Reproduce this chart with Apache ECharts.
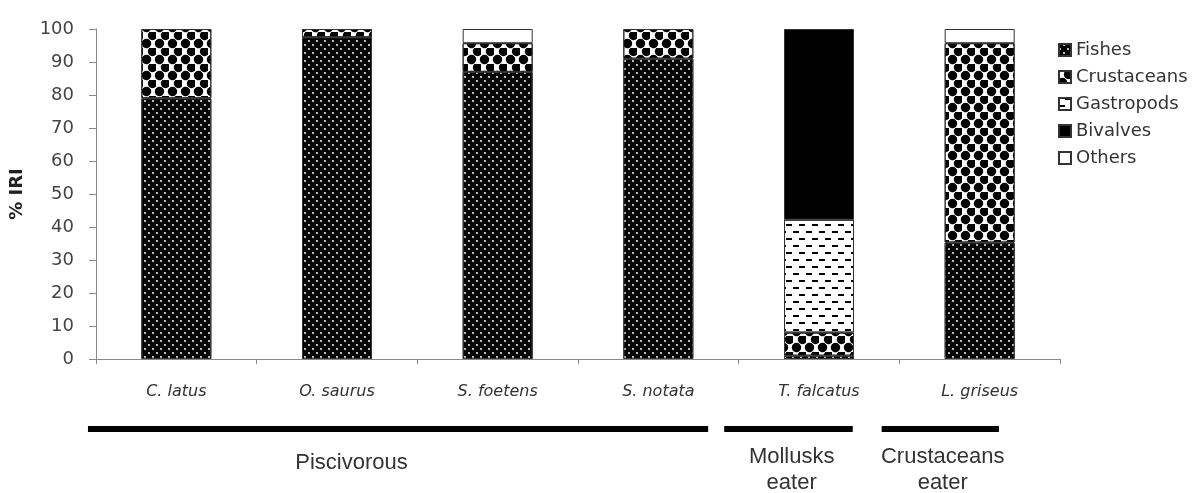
<!DOCTYPE html>
<html>
<head>
<meta charset="utf-8">
<script src="https://cdn.jsdelivr.net/npm/echarts@6/dist/echarts.min.js"></script>
<style>
  html, body { margin: 0; padding: 0; background: #fff; }
  #chart { width: 1198px; height: 493px; }
</style>
</head>
<body>
<div id="chart"></div>
<script>
// species on the x axis
const species = ["C. latus", "O. saurus", "S. foetens", "S. notata", "T. falcatus", "L. griseus"];

// % IRI by prey group
const fishes      = [79, 97.5, 87, 91, 1, 35.3];
const crustaceans = [21, 2.5, 8.7, 9, 7, 60.4];
const gastropods  = [0, 0, 0, 0, 34.2, 0];
const bivalves    = [0, 0, 0, 0, 57.8, 0];
const others      = [0, 0, 4.3, 0, 0, 4.3];

const yTicks = [0, 100, 10]; // min, max, interval

// feeding guilds under the axis (spans in category units)
const guildNames = ["Piscivorous", "Mollusks\neater", "Crustaceans\neater"];
const guildFrom  = [-0.55, 3.41, 4.39];
const guildTo    = [3.31, 4.21, 5.12];
const guildMid   = [1.09, 3.83, 4.77];
const guildTop   = [450, 444, 444];

const chart = echarts.init(document.getElementById("chart"));

const decals = {
  Fishes: {
    symbol: "rect", color: "#b8b8b8", symbolSize: 1,
    dashArrayX: [[2, 6], [0, 4, 2, 2]], dashArrayY: [2, 2]
  },
  Crustaceans: {
    symbol: "circle", color: "#000", symbolSize: 1.35,
    dashArrayX: [[7, 6], [0, 6, 7, 0]], dashArrayY: [7, 1]
  },
  Gastropods: {
    symbol: "rect", color: "#000", symbolSize: 1,
    dashArrayX: [[6, 7], [0, 6, 6, 1]], dashArrayY: [2, 5]
  }
};
const fills = {
  Fishes: "#000", Crustaceans: "#fff", Gastropods: "#fff", Bivalves: "#000", Others: "#fff"
};

const mk = (name, vals) => {
  const itemStyle = { color: fills[name], borderColor: "#333", borderWidth: 1 };
  if (decals[name]) itemStyle.decal = decals[name];
  return {
    name,
    type: "bar",
    stack: "iri",
    barWidth: 70,
    data: vals.map(v => (v ? v : "-")),
    itemStyle
  };
};

const option = {
  animation: false,
  backgroundColor: "#fff",
  grid: { left: 93, right: 138, top: 29, bottom: 134 },
  legend: {
    orient: "vertical",
    left: 1053,
    top: 36,
    itemWidth: 12,
    itemHeight: 12,
    itemGap: 9,
    icon: "rect",
    textStyle: { fontFamily: "DejaVu Sans", fontSize: 18, color: "#333" },
    data: ["Fishes", "Crustaceans", "Gastropods", "Bivalves", "Others"]
  },
  xAxis: {
    type: "category",
    data: species,
    axisLine: { lineStyle: { color: "#8a8a8a" } },
    axisTick: { show: true, length: 5, lineStyle: { color: "#8a8a8a" } },
    axisLabel: {
      margin: 25,
      fontFamily: "DejaVu Sans",
      fontStyle: "italic",
      fontSize: 16,
      color: "#333"
    }
  },
  yAxis: {
    type: "value",
    min: yTicks[0],
    max: yTicks[1],
    interval: yTicks[2],
    name: "% IRI",
    nameLocation: "middle",
    nameGap: 70,
    nameTextStyle: { fontFamily: "DejaVu Sans", fontWeight: "bold", fontSize: 18, color: "#222" },
    axisLine: { show: true, lineStyle: { color: "#8a8a8a" } },
    axisTick: { show: true, length: 7, lineStyle: { color: "#8a8a8a" } },
    splitLine: { show: false },
    axisLabel: { margin: 22, fontFamily: "DejaVu Sans", fontSize: 18, color: "#444" }
  },
  series: [
    mk("Fishes", fishes),
    mk("Crustaceans", crustaceans),
    mk("Gastropods", gastropods),
    mk("Bivalves", bivalves),
    mk("Others", others)
  ]
};

chart.setOption(option);

// guild bars and names, placed from the category scale
const toX = i => {
  const a = chart.convertToPixel({ xAxisIndex: 0 }, 0);
  const b = chart.convertToPixel({ xAxisIndex: 0 }, 1);
  return a + (b - a) * i;
};
const graphics = [];
guildNames.forEach((name, i) => {
  graphics.push({
    type: "line",
    shape: { x1: toX(guildFrom[i]), y1: 429, x2: toX(guildTo[i]), y2: 429 },
    style: { stroke: "#000", lineWidth: 6 }
  });
  graphics.push({
    type: "text",
    x: toX(guildMid[i]),
    y: guildTop[i],
    style: {
      text: name,
      align: "center",
      verticalAlign: "top",
      fontFamily: "Liberation Sans",
      fontSize: 22,
      lineHeight: 26,
      fill: "#333"
    }
  });
});
chart.setOption({ graphic: graphics });
</script>
</body>
</html>
